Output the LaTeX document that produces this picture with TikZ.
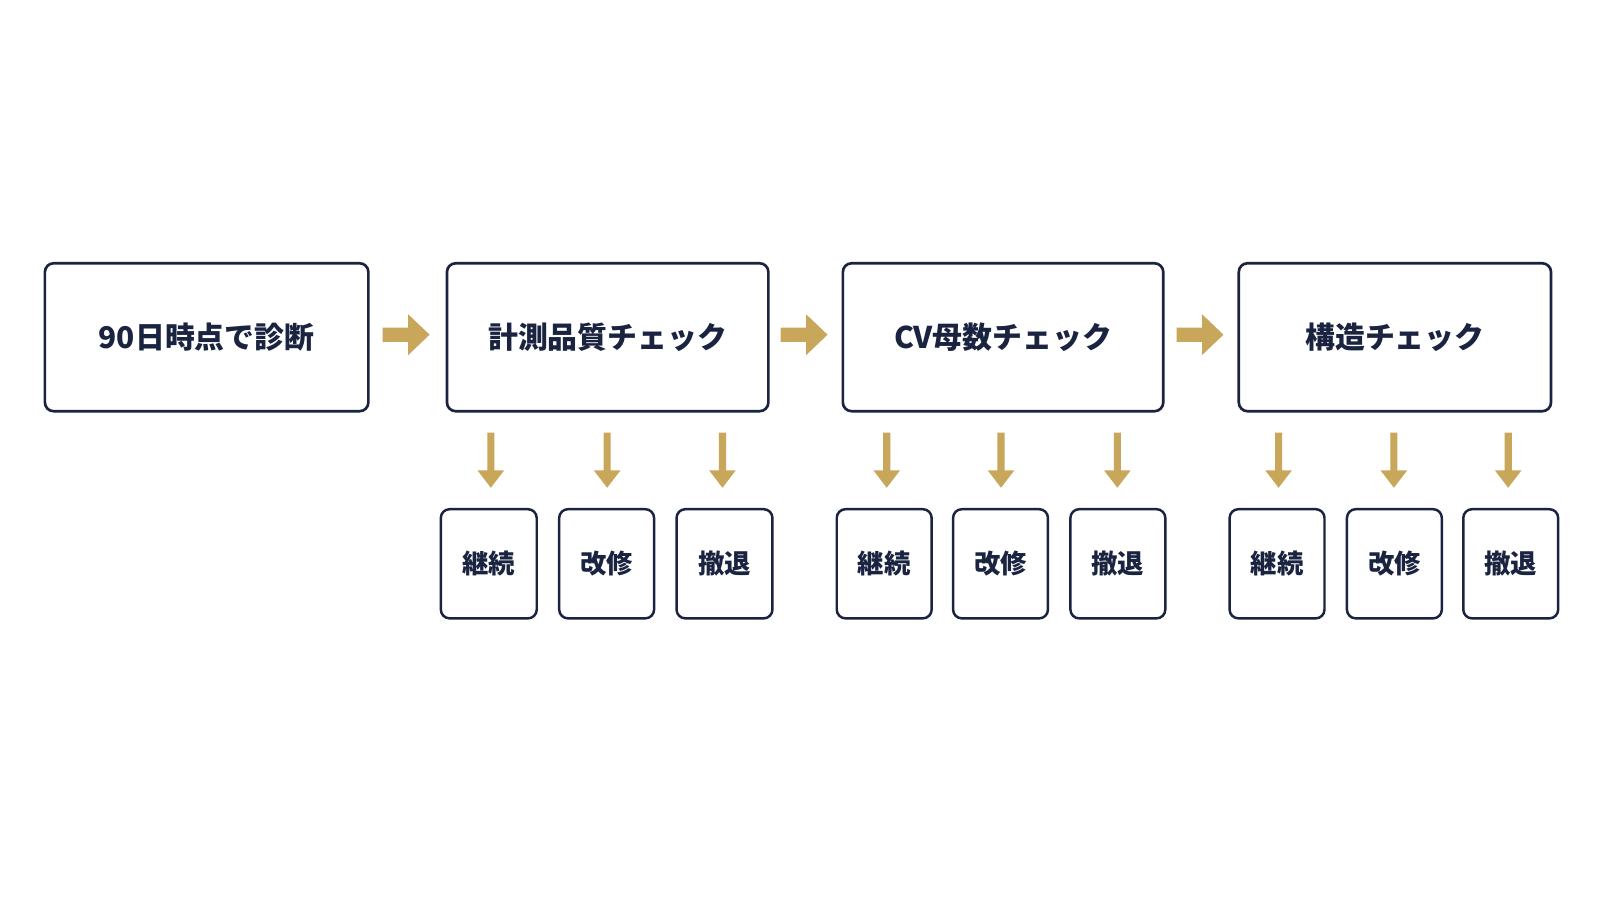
\documentclass[tikz,border=0pt]{standalone}
\usepackage{fontspec}
\setmainfont{Noto Sans CJK JP}
\definecolor{navy}{HTML}{1A2440}
\definecolor{gold}{HTML}{C9A75A}
\begin{document}
\begin{tikzpicture}[x=0.020408cm,y=-0.020408cm,
  box/.style={draw=navy,line width=1.5pt,rounded corners=5pt,fill=white,text=navy,font=\fontsize{17}{20}\selectfont\bfseries}]
\useasboundingbox (0,0) rectangle (1568,882);
\fill[white] (0,0) rectangle (1568,882);
\newcommand\mainbox[4]{\draw[box] (#2,258) rectangle (#3,403) node[midway] (#1) {#4};}
\mainbox{a}{44}{361}{90日時点で診断}
\mainbox{b}{438}{753}{計測品質チェック}
\mainbox{c}{826}{1140}{CV母数チェック}
\mainbox{d}{1214}{1520}{構造チェック}
\newcommand\harr[1]{\fill[gold] (#1-46,321) -- (#1-21,321) -- (#1-21,308) -- (#1,328) -- (#1-21,348) -- (#1-21,335) -- (#1-46,335) -- cycle;}
\harr{421}\harr{811}\harr{1199}
\newcommand\varr[1]{\fill[gold] (#1-3.5,424) -- (#1+3.5,424) -- (#1+3.5,461) -- (#1+13,461) -- (#1,478) -- (#1-13,461) -- (#1-3.5,461) -- cycle;}
\newcommand\smallbox[4]{\draw[box,line width=1.4pt,font=\fontsize{15}{18}\selectfont\bfseries] (#2,499) rectangle (#3,606) node[midway] (#1) {#4};}
\foreach \x in {481,595,708,869,981,1095,1253,1366,1478}{\varr{\x}}
\smallbox{b1}{432}{526}{継続}\smallbox{b2}{548}{641}{改修}\smallbox{b3}{663}{757}{撤退}
\smallbox{c1}{820}{913}{継続}\smallbox{c2}{934}{1027}{改修}\smallbox{c3}{1049}{1142}{撤退}
\smallbox{d1}{1205}{1298}{継続}\smallbox{d2}{1320}{1413}{改修}\smallbox{d3}{1434}{1527}{撤退}
\end{tikzpicture}
\end{document}
